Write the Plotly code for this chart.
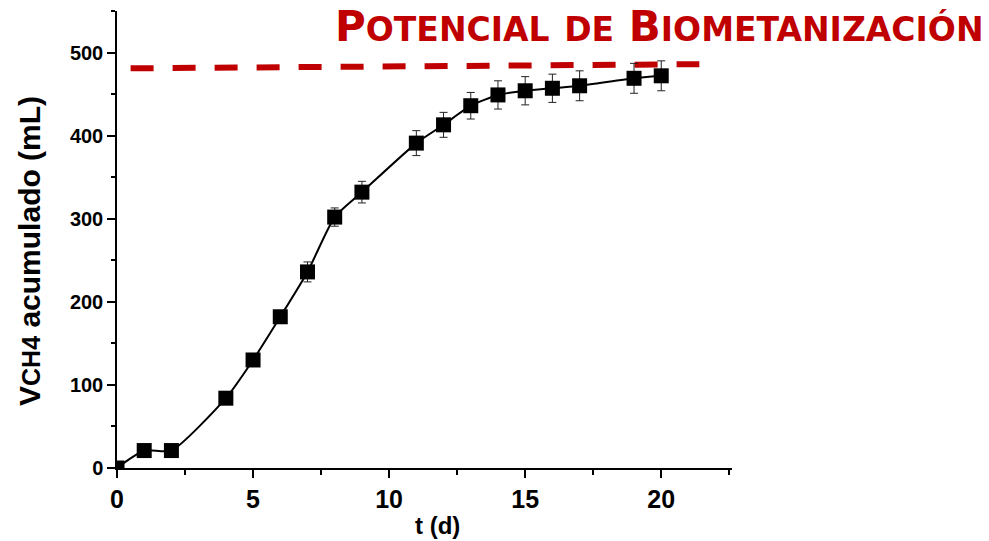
import plotly.graph_objects as go

# data
t_days = [0, 1, 2, 4, 5, 6, 7, 8, 9, 11, 12, 13, 14, 15, 16, 17, 19, 20]
v_ch4 = [0, 21, 21, 84, 130, 182, 236, 302, 332, 391, 413, 436, 449, 454, 457, 460, 469, 472]
v_err = [0, 2, 2, 4, 5, 6, 12, 11, 13, 15, 15, 16, 17, 17, 17, 18, 18, 18]
bmp_x = [0.5, 21.4]
bmp_y = [481, 486]

x_ticks = [0, 5, 10, 15, 20]
y_ticks = [0, 100, 200, 300, 400, 500]

FONT = "Liberation Sans, Arial, sans-serif"
RED = "#C00000"

fig = go.Figure()
fig.add_trace(go.Scatter(
    x=bmp_x, y=bmp_y, mode="lines",
    line=dict(color=RED, width=6, dash="23px,19px"),
    hoverinfo="skip", showlegend=False,
))
fig.add_trace(go.Scatter(
    x=t_days, y=v_ch4, mode="lines+markers",
    line=dict(color="black", width=2, shape="spline", smoothing=0.6),
    marker=dict(symbol="square", size=15, color="black"),
    error_y=dict(type="data", array=v_err, color="#222222", thickness=1, width=4),
    showlegend=False,
))

axis_common = dict(
    showgrid=False, zeroline=False, showline=True, linecolor="black", linewidth=1.5,
    ticks="outside", ticklen=8, tickwidth=1.5, tickcolor="black",
)
fig.update_xaxes(
    range=[0, 22.6], tickvals=x_ticks,
    tickfont=dict(family=FONT, size=25, color="black", weight="bold"),
    minor=dict(ticks="outside", ticklen=5, tickwidth=1.5, tickcolor="black", dtick=2.5, tick0=0),
    **axis_common,
)
fig.update_yaxes(
    range=[0, 550], tickvals=y_ticks,
    tickfont=dict(family=FONT, size=20, color="black", weight="bold"),
    minor=dict(ticks="outside", ticklen=4, tickwidth=1.5, tickcolor="black", dtick=50, tick0=0),
    **axis_common,
)

L, R, T, B = 117.3, 732.0, 11.1, 468.3
W, H = 989, 541
pw, ph = R - L, B - T

def px(xp):
    return (xp - L) / pw

def py(yp):
    return (B - yp) / ph

fig.add_annotation(
    text="V<span style='font-size:25px'>CH4</span> acumulado (mL)",
    textangle=-90, xref="paper", yref="paper", x=px(30), y=py(251.5),
    xanchor="center", yanchor="middle", showarrow=False,
    font=dict(family=FONT, size=30, color="black", weight="bold"),
)
fig.add_annotation(
    text="t (d)", xref="paper", yref="paper", x=px(438), y=py(526),
    xanchor="center", yanchor="middle", showarrow=False,
    font=dict(family=FONT, size=24, color="black", weight="bold"),
)
big, small = 42, 33
def sc(word, first_big=True):
    if not first_big:
        return "<span style='font-size:%dpx'>%s</span>" % (small, word)
    return word[0] + "<span style='font-size:%dpx'>%s</span>" % (small, word[1:])
title = " ".join([sc("POTENCIAL"), sc("DE", False), sc("BIOMETANIZACIÓN")])
fig.add_annotation(
    text=title, xref="paper", yref="paper", x=px(986), y=py(27),
    xanchor="right", yanchor="middle", showarrow=False,
    font=dict(family="DejaVu Sans, sans-serif", size=big, color=RED, weight="bold"),
)

fig.update_layout(
    width=W, height=H,
    margin=dict(l=L, r=W - R, t=T, b=H - B, pad=0),
    plot_bgcolor="white", paper_bgcolor="white",
)
fig.write_html("out.html")
